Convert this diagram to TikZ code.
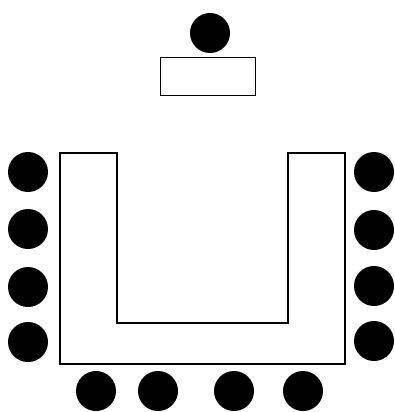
\documentclass[tikz,border=0pt]{standalone}
\begin{document}
\begin{tikzpicture}[x=1pt,y=-1pt,
  seat/.style={circle,fill=black,draw=none,minimum size=40pt,inner sep=0pt},
  desk/.style={draw=black,line width=1.5pt,minimum width=95pt,minimum height=38pt,inner sep=0pt},
  tableline/.style={draw=black,line width=1.6pt,line join=miter}]
\useasboundingbox (0,0) rectangle (394,412);
% lectern
\node[seat] (top) at (210,33) {};
\node[desk] (lect) at (208,76.5) {};
% U-shaped table
\draw[tableline] (60,153) -- (117,153) -- (117,323) -- (288,323) -- (288,153) -- (345,153) -- (345,364) -- (60,364) -- cycle;
% left seats
\node[seat] (l1) at (28,172) {};
\node[seat] (l2) at (28,229) {};
\node[seat] (l3) at (28,287) {};
\node[seat] (l4) at (28,342) {};
% right seats
\node[seat] (r1) at (374,172) {};
\node[seat] (r2) at (374,230) {};
\node[seat] (r3) at (374,286) {};
\node[seat] (r4) at (374,341) {};
% bottom seats
\node[seat] (b1) at (96,391) {};
\node[seat] (b2) at (158,391) {};
\node[seat] (b3) at (234,391) {};
\node[seat] (b4) at (303,391) {};
\end{tikzpicture}
\end{document}
